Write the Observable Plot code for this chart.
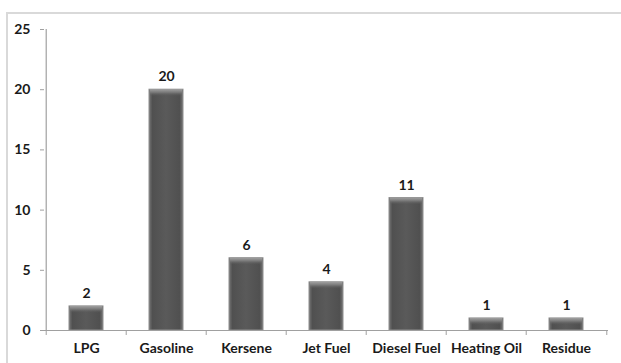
<!DOCTYPE html>
<html>
<head>
<meta charset="utf-8">
<script src="https://cdn.jsdelivr.net/npm/d3@7"></script>
<script src="https://cdn.jsdelivr.net/npm/@observablehq/plot@0.6"></script>
<style>
  html, body { margin: 0; padding: 0; background: #fff; }
  #wrap { position: relative; width: 621px; height: 363px; overflow: hidden; }
  #border { position: absolute; left: 6px; top: 12px; width: 640px; height: 400px;
            border: 2px solid #d9d9d9; box-sizing: border-box; }
  #chart { position: absolute; left: 0; top: 0; }
</style>
</head>
<body>
<div id="wrap">
  <div id="border"></div>
  <div id="chart"></div>
</div>
<script>
// Product yields by fraction
const categories = ["LPG", "Gasoline", "Kersene", "Jet Fuel", "Diesel Fuel", "Heating Oil", "Residue"];
const values = [2, 20, 6, 4, 11, 1, 1];
const yTicks = [0, 5, 10, 15, 20, 25];

const data = categories.map((c, i) => ({category: c, value: values[i]}));

const W = 621, H = 363;
const mL = 44, mR = 13, mT = 29, mB = 33;
const step = (W - mL - mR) / categories.length;
const font = "Lato, 'Open Sans', sans-serif";

const plot = Plot.plot({
  width: W,
  height: H,
  marginLeft: mL,
  marginRight: mR,
  marginTop: mT,
  marginBottom: mB,
  style: {fontFamily: font, fontSize: "14px", fontWeight: "bold", color: "#1a1a1a", background: "transparent"},
  x: {domain: categories, paddingInner: 0.58, paddingOuter: 0.29, label: null},
  y: {domain: [0, 25], ticks: yTicks, label: null},
  marks: [
    () => {
      const ns = "http://www.w3.org/2000/svg";
      const defs = document.createElementNS(ns, "defs");
      defs.innerHTML = `
        <linearGradient id="barBody" x1="0" x2="1" y1="0" y2="0">
          <stop offset="0" stop-color="#767676"/>
          <stop offset="0.1" stop-color="#505050"/>
          <stop offset="0.5" stop-color="#5a5a5a"/>
          <stop offset="0.9" stop-color="#505050"/>
          <stop offset="1" stop-color="#767676"/>
        </linearGradient>
        <linearGradient id="barTop" x1="0" x2="0" y1="0" y2="1">
          <stop offset="0" stop-color="#a0a0a0"/>
          <stop offset="0.45" stop-color="#7a7a7a"/>
          <stop offset="1" stop-color="#5a5a5a" stop-opacity="0"/>
        </linearGradient>`;
      return defs;
    },
    Plot.barY(data, {x: "category", y: "value", fill: "url(#barBody)", stroke: "#8e8e8e", strokeWidth: 1}),
    // top bevel strip
    Plot.rect(data, {x: "category", y1: "value", y2: "value", insetBottom: -7, insetLeft: 1, insetRight: 1, fill: "url(#barTop)"}),
    Plot.text(data, {x: "category", y: "value", text: d => String(d.value), dy: -13, fontSize: 14, fontWeight: "bold", fill: "#1a1a1a"}),
    // axis lines
    Plot.ruleY([0], {stroke: "#a0a0a0", strokeWidth: 1.2}),
    Plot.ruleX([categories[0]], {x: d => d, dx: -step / 2, y1: 0, y2: 25, stroke: "#a0a0a0", strokeWidth: 1.2}),
    // category boundary ticks below the baseline
    Plot.ruleX(categories, {x: d => d, dx: -step / 2, y1: 0, y2: 0, insetBottom: -5, stroke: "#a0a0a0"}),
    Plot.ruleX(categories.slice(-1), {x: d => d, dx: step / 2, y1: 0, y2: 0, insetBottom: -5, stroke: "#a0a0a0"}),
    Plot.axisY({ticks: yTicks, tickSize: 4, tickPadding: 10, stroke: "#a0a0a0", fontSize: 14, fontWeight: "bold", fill: "#1a1a1a", label: null}),
    Plot.axisX({tickSize: 0, tickPadding: 13, fontSize: 14, fontWeight: "bold", fill: "#1a1a1a", label: null})
  ]
});
document.getElementById("chart").appendChild(plot);
</script>
</body>
</html>
